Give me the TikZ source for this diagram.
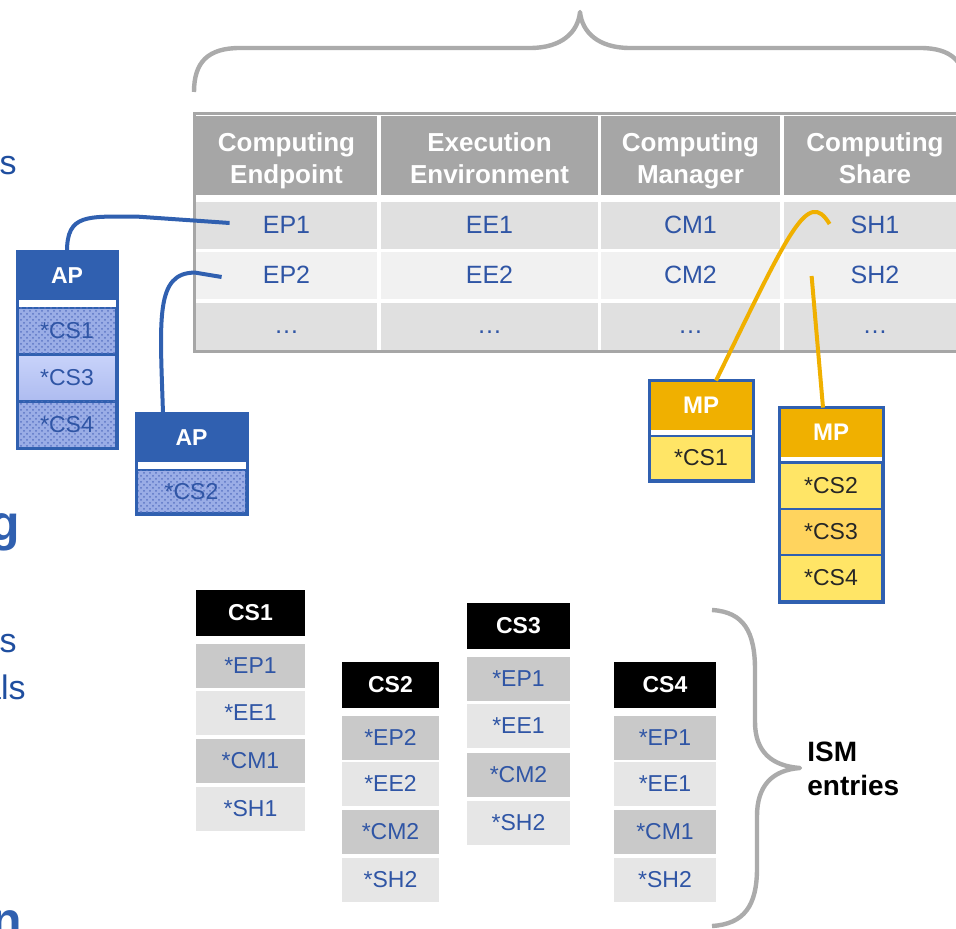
\documentclass[tikz,border=0pt]{standalone}
\usepackage{fontspec}
\setmainfont{Liberation Sans}
\usetikzlibrary{calc}
\usetikzlibrary{patterns}
\definecolor{tableGray}{HTML}{A6A6A6}
\definecolor{rowDark}{HTML}{E0E0E0}
\definecolor{rowLight}{HTML}{F1F1F1}
\definecolor{cellBlue}{HTML}{2F55A5}
\definecolor{apBlue}{HTML}{3060B0}
\definecolor{apDotBg}{HTML}{9AADE6}
\definecolor{apDotFg}{HTML}{5C76C4}
\definecolor{apLight}{HTML}{C8D3FA}
\definecolor{apLightLow}{HTML}{AEBCF0}
\definecolor{mpOrange}{HTML}{F0B000}
\definecolor{mpYellow}{HTML}{FFE566}
\definecolor{mpAmber}{HTML}{FFD45E}
\definecolor{csDark}{HTML}{C9C9C9}
\definecolor{csLight}{HTML}{E6E6E6}
\definecolor{braceGray}{HTML}{ABABAB}
\definecolor{sideBlue}{HTML}{1F4E9F}
\definecolor{sideBold}{HTML}{3060B0}

\begin{document}
\begin{tikzpicture}[
    x=0.5pt, y=-0.5pt,
    tableHead/.style={
        fill=tableGray, text=white, inner sep=0pt,
        minimum height=39.5pt,
        font=\fontsize{13}{16}\selectfont\bfseries,
        align=center
    },
    tableCell/.style={
        inner sep=0pt, minimum height=23.5pt, text=cellBlue,
        text height=9pt, text depth=1.5pt,
        font=\fontsize{12.5}{14}\selectfont
    },
    colEP/.style={minimum width=90.5pt},
    colEE/.style={minimum width=108.5pt},
    colCM/.style={minimum width=89.5pt},
    colSH/.style={minimum width=91pt},
    apHead/.style={
        fill=apBlue, text=white, inner sep=0pt,
        minimum height=24pt,
        font=\fontsize{11.5}{13}\selectfont\bfseries
    },
    apRow/.style={
        draw=apBlue, line width=1pt, inner sep=0pt,
        minimum height=23pt, text=cellBlue,
        font=\fontsize{11.5}{13}\selectfont
    },
    apDots/.style={
        apRow, fill=apDotBg,
        postaction={pattern=crosshatch dots, pattern color=apDotFg}
    },
    apPlain/.style={apRow, top color=apLight, bottom color=apLightLow},
    mpHead/.style={
        fill=mpOrange, text=white, inner sep=0pt,
        minimum width=51pt, minimum height=24.5pt,
        font=\fontsize{12}{14}\selectfont\bfseries
    },
    mpRow/.style={
        draw=apBlue, line width=1pt, fill=mpYellow, inner sep=0pt,
        minimum width=51pt, minimum height=23pt, text=black!85,
        font=\fontsize{11.5}{13}\selectfont
    },
    boxFrame/.style={draw=apBlue, line width=1.5pt},
    csHead/.style={
        fill=black, text=white, inner sep=0pt,
        minimum height=23pt,
        font=\fontsize{11.5}{13}\selectfont\bfseries
    },
    csRow/.style={
        inner sep=0pt, minimum height=22pt, text=cellBlue,
        font=\fontsize{11.5}{13}\selectfont
    },
    csDarkRow/.style={csRow, fill=csDark},
    csLightRow/.style={csRow, fill=csLight},
    apLink/.style={draw=apBlue, line width=2pt},
    mpLink/.style={draw=mpOrange, line width=2pt},
    brace/.style={draw=braceGray, line width=2.2pt, line join=round},
    ismLabel/.style={
        inner sep=0pt, align=left,
        font=\fontsize{14}{17}\selectfont\bfseries
    },
    sideText/.style={
        inner sep=0pt, text=sideBlue,
        font=\fontsize{17}{20}\selectfont
    },
    sideHead/.style={
        inner sep=0pt, text=sideBold,
        font=\fontsize{25}{30}\selectfont\bfseries
    }
]
\useasboundingbox (0,0) rectangle (956,929);

\draw[brace] (194,92) .. controls (194,62) and (208,48) .. (240,48) -- (530,48)
    .. controls (562,48) and (578,32) .. (580,12)
    .. controls (582,32) and (598,48) .. (630,48) -- (920,48)
    .. controls (952,48) and (966,62) .. (966,92);

\node[tableHead, minimum width=90.5pt] (hEP) at (286.5,155.5) {\rule{0pt}{15.5pt}Computing\\Endpoint\rule[-3pt]{0pt}{3pt}};
\node[tableHead, minimum width=108.5pt] (hEE) at (489.5,155.5) {\rule{0pt}{15.5pt}Execution\\Environment\rule[-3pt]{0pt}{3pt}};
\node[tableHead, minimum width=89.5pt] (hCM) at (690.5,155.5) {\rule{0pt}{15.5pt}Computing\\Manager\rule[-3pt]{0pt}{3pt}};
\node[tableHead, minimum width=91pt] (hSH) at (875,155.5) {\rule{0pt}{15.5pt}Computing\\Share\rule[-3pt]{0pt}{3pt}};

\node[tableCell, colEP, fill=rowDark] (ep1) at (286.5,226) {EP1};
\node[tableCell, colEE, fill=rowDark] (ee1) at (489.5,226) {EE1};
\node[tableCell, colCM, fill=rowDark] (cm1) at (690.5,226) {CM1};
\node[tableCell, colSH, fill=rowDark] (sh1) at (875,226) {SH1};
\node[tableCell, colEP, fill=rowLight] (ep2) at (286.5,276) {EP2};
\node[tableCell, colEE, fill=rowLight] (ee2) at (489.5,276) {EE2};
\node[tableCell, colCM, fill=rowLight] (cm2) at (690.5,276) {CM2};
\node[tableCell, colSH, fill=rowLight] (sh2) at (875,276) {SH2};
\node[tableCell, colEP, fill=rowDark] (epMore) at (286.5,326.5) {…};
\node[tableCell, colEE, fill=rowDark] (eeMore) at (489.5,326.5) {…};
\node[tableCell, colCM, fill=rowDark] (cmMore) at (690.5,326.5) {…};
\node[tableCell, colSH, fill=rowDark] (shMore) at (875,326.5) {…};
\draw[tableGray, line width=1.5pt] (194,114) rectangle (968,352);

\node[apHead, minimum width=49pt] (ap1) at (67,276) {AP};
\node[apDots, minimum width=49pt] (ap1a) at (67,331) {*CS1};
\node[apPlain, minimum width=49pt] (ap1b) at (67,378) {*CS3};
\node[apDots, minimum width=49pt] (ap1c) at (67,425) {*CS4};
\draw[boxFrame] (ap1.north west) rectangle (ap1c.south east);

\node[apHead, minimum width=54.5pt] (ap2) at (191.5,438) {AP};
\node[apDots, minimum width=54.5pt, minimum height=21.5pt] (ap2a) at (191.5,491.5) {*CS2};
\draw[boxFrame] (ap2.north west) rectangle (ap2a.south east);

\node[mpHead] (mp1) at (701,405.5) {MP};
\node[mpRow, minimum height=22pt] (mp1a) at (701,458) {*CS1};
\draw[boxFrame] (mp1.north west) rectangle (mp1a.south east);

\node[mpHead] (mp2) at (831,432.5) {MP};
\node[mpRow] (mp2a) at (831,485.5) {*CS2};
\node[mpRow, fill=mpAmber] (mp2b) at (831,531.5) {*CS3};
\node[mpRow] (mp2c) at (831,578) {*CS4};
\draw[boxFrame] (mp2.north west) rectangle (mp2c.south east);

\draw[apLink] (ap1.north) .. controls +(0,-38) and +(-50,0) .. ++(70,-35)
    -- ($(ep1.west)+(34,-3)$);
\draw[apLink] ($(ap2.north)+(-28.5,0)$) .. controls +(-3,-95) and +(-40,0) .. ++(32,-141)
    -- ($(ep2.west)+(26,1)$);
\draw[mpLink] ($(mp1.north)+(15,0)$) .. controls +(74,-151) and +(-22,-36) .. ($(sh1.west)+(46,-2)$);
\draw[mpLink] ($(mp2.north)+(-8,0)$) -- ($(sh2.west)+(28,0)$);

\node[csHead, minimum width=54.5pt] (cs1) at (250.5,613) {CS1};
\node[csDarkRow, minimum width=54.5pt] (cs1ep) at (250.5,666) {*EP1};
\node[csLightRow, minimum width=54.5pt] (cs1ee) at (250.5,712.5) {*EE1};
\node[csDarkRow, minimum width=54.5pt] (cs1cm) at (250.5,760.5) {*CM1};
\node[csLightRow, minimum width=54.5pt] (cs1sh) at (250.5,809) {*SH1};

\node[csHead, minimum width=48.5pt] (cs2) at (390.5,684.5) {CS2};
\node[csDarkRow, minimum width=48.5pt] (cs2ep) at (390.5,737.5) {*EP2};
\node[csLightRow, minimum width=48.5pt] (cs2ee) at (390.5,783.5) {*EE2};
\node[csDarkRow, minimum width=48.5pt] (cs2cm) at (390.5,831.5) {*CM2};
\node[csLightRow, minimum width=48.5pt] (cs2sh) at (390.5,880) {*SH2};

\node[csHead, minimum width=51.5pt] (cs3) at (518.5,626) {CS3};
\node[csDarkRow, minimum width=51.5pt] (cs3ep) at (518.5,679) {*EP1};
\node[csLightRow, minimum width=51.5pt] (cs3ee) at (518.5,726) {*EE1};
\node[csDarkRow, minimum width=51.5pt] (cs3cm) at (518.5,774.5) {*CM2};
\node[csLightRow, minimum width=51.5pt] (cs3sh) at (518.5,822.5) {*SH2};

\node[csHead, minimum width=51pt] (cs4) at (665,684.5) {CS4};
\node[csDarkRow, minimum width=51pt] (cs4ep) at (665,737.5) {*EP1};
\node[csLightRow, minimum width=51pt] (cs4ee) at (665,783.5) {*EE1};
\node[csDarkRow, minimum width=51pt] (cs4cm) at (665,831.5) {*CM1};
\node[csLightRow, minimum width=51pt] (cs4sh) at (665,880) {*SH2};

\draw[brace] (712,610) .. controls (744,612) and (755,632) .. (755,670) -- (755,722)
    .. controls (755,752) and (772,766) .. (800,768)
    .. controls (772,770) and (757,786) .. (757,816) -- (757,868)
    .. controls (757,906) and (744,924) .. (712,926);
\node[ismLabel, anchor=west] (ism) at (807,769) {ISM\\entries};

\node[sideText, anchor=base east] (sideA) at (17,175) {s};
\node[sideHead, anchor=base east] (sideB) at (20,540) {g};
\node[sideText, anchor=base east] (sideC) at (17,652) {s};
\node[sideText, anchor=base east] (sideD) at (26,699) {als};
\node[sideHead, anchor=base east] (sideE) at (22,937) {n};
\end{tikzpicture}
\end{document}
